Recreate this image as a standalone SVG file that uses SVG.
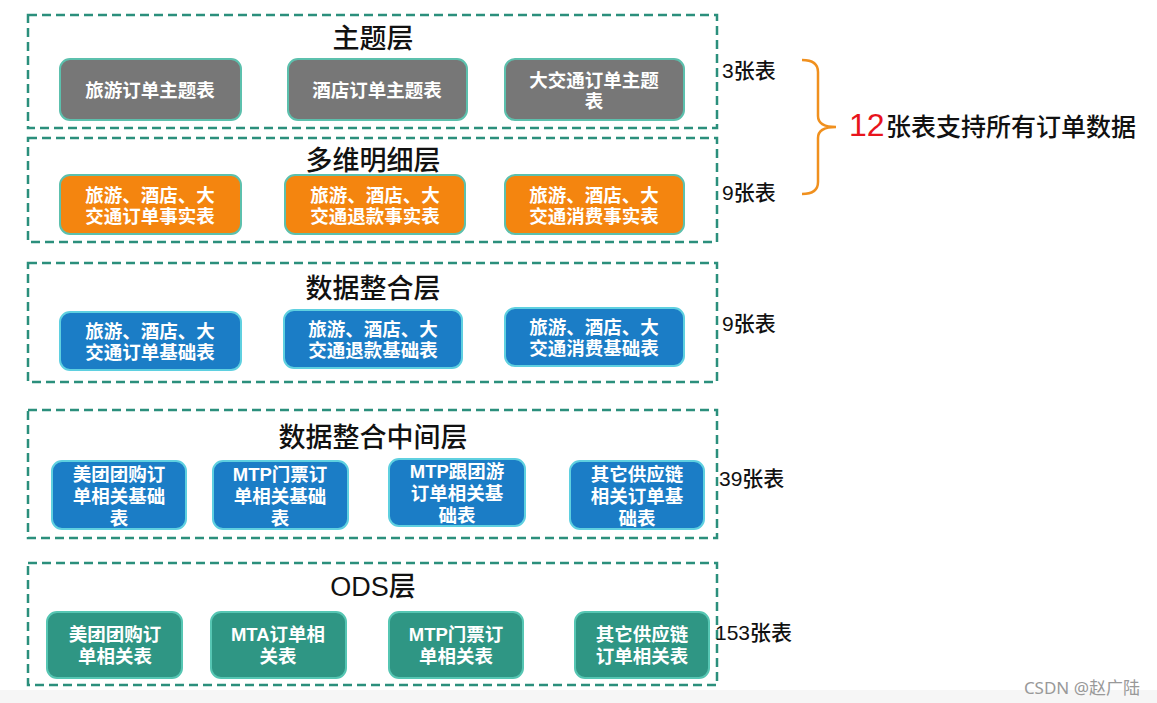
<svg xmlns="http://www.w3.org/2000/svg" width="1157" height="703" viewBox="0 0 1157 703">
<defs>
<style>
.layer{fill:none;stroke:#2b8f7c;stroke-width:2.5;stroke-dasharray:9 5}
.title{font-family:"Liberation Sans","Noto Sans CJK SC",sans-serif;font-size:27px;font-weight:500;fill:#111;text-anchor:middle}
.nt{font-family:"Liberation Sans","Noto Sans CJK SC",sans-serif;font-size:18.5px;font-weight:bold;fill:#fff;text-anchor:middle}
.gray{fill:#777;stroke:#5cc0ad;stroke-width:2}
.orange{fill:#f4850f;stroke:#5cc0ad;stroke-width:2}
.blue{fill:#1b7dc6;stroke:#5fd0e0;stroke-width:2}
.teal{fill:#2f9684;stroke:#56c6b3;stroke-width:2}
.cnt{font-family:"Liberation Sans","Noto Sans CJK SC",sans-serif;font-size:21px;font-weight:500;fill:#111}
</style>
</defs>
<rect x="0" y="0" width="1157" height="703" fill="#fff"/>
<rect x="0" y="690" width="1157" height="13" fill="#f6f6f6"/>

<g id="layer-theme">
<rect class="layer" x="28" y="15" width="689" height="113"/>
<text class="title" x="373" y="48">主题层</text>
<g id="n-theme-1"><rect class="gray" x="60" y="59" width="181" height="61" rx="10"/><text class="nt" x="150" y="97">旅游订单主题表</text></g>
<g id="n-theme-2"><rect class="gray" x="288" y="59" width="179" height="61" rx="10"/><text class="nt" x="377" y="97">酒店订单主题表</text></g>
<g id="n-theme-3"><rect class="gray" x="505" y="59" width="179" height="61" rx="10"/><text class="nt" x="594" y="87">大交通订单主题</text><text class="nt" x="594" y="108">表</text></g>
</g>

<g id="layer-detail">
<rect class="layer" x="28" y="138" width="689" height="104"/>
<text class="title" x="373" y="170">多维明细层</text>
<g id="n-detail-1"><rect class="orange" x="60" y="175" width="181" height="59" rx="10"/><text class="nt" x="150" y="202">旅游、酒店、大</text><text class="nt" x="150" y="223">交通订单事实表</text></g>
<g id="n-detail-2"><rect class="orange" x="285" y="175" width="180" height="59" rx="10"/><text class="nt" x="375" y="202">旅游、酒店、大</text><text class="nt" x="375" y="223">交通退款事实表</text></g>
<g id="n-detail-3"><rect class="orange" x="505" y="175" width="179" height="59" rx="10"/><text class="nt" x="594" y="202">旅游、酒店、大</text><text class="nt" x="594" y="223">交通消费事实表</text></g>
</g>

<g id="layer-integration">
<rect class="layer" x="28" y="263" width="689" height="119"/>
<text class="title" x="373" y="298">数据整合层</text>
<g id="n-int-1"><rect class="blue" x="60" y="312" width="181" height="58" rx="10"/><text class="nt" x="150" y="338">旅游、酒店、大</text><text class="nt" x="150" y="359">交通订单基础表</text></g>
<g id="n-int-2"><rect class="blue" x="284" y="310" width="178" height="58" rx="10"/><text class="nt" x="373" y="336">旅游、酒店、大</text><text class="nt" x="373" y="357">交通退款基础表</text></g>
<g id="n-int-3"><rect class="blue" x="505" y="308" width="179" height="58" rx="10"/><text class="nt" x="594" y="334">旅游、酒店、大</text><text class="nt" x="594" y="355">交通消费基础表</text></g>
</g>

<g id="layer-mid">
<rect class="layer" x="28" y="410" width="689" height="128"/>
<text class="title" x="373" y="447">数据整合中间层</text>
<g id="n-mid-1"><rect class="blue" x="52" y="461" width="134" height="68" rx="10"/><text class="nt" x="119" y="481">美团团购订</text><text class="nt" x="119" y="503">单相关基础</text><text class="nt" x="119" y="525">表</text></g>
<g id="n-mid-2"><rect class="blue" x="213" y="461" width="135" height="68" rx="10"/><text class="nt" x="280" y="481">MTP门票订</text><text class="nt" x="280" y="503">单相关基础</text><text class="nt" x="280" y="525">表</text></g>
<g id="n-mid-3"><rect class="blue" x="389" y="459" width="136" height="67" rx="10"/><text class="nt" x="457" y="478">MTP跟团游</text><text class="nt" x="457" y="500">订单相关基</text><text class="nt" x="457" y="522">础表</text></g>
<g id="n-mid-4"><rect class="blue" x="570" y="461" width="134" height="68" rx="10"/><text class="nt" x="637" y="481">其它供应链</text><text class="nt" x="637" y="503">相关订单基</text><text class="nt" x="637" y="525">础表</text></g>
</g>

<g id="layer-ods">
<rect class="layer" x="28" y="563" width="689" height="122"/>
<text class="title" x="373" y="596">ODS层</text>
<g id="n-ods-1"><rect class="teal" x="47" y="612" width="135" height="66" rx="10"/><text class="nt" x="115" y="641">美团团购订</text><text class="nt" x="115" y="663">单相关表</text></g>
<g id="n-ods-2"><rect class="teal" x="211" y="612" width="135" height="66" rx="10"/><text class="nt" x="278" y="641">MTA订单相</text><text class="nt" x="278" y="663">关表</text></g>
<g id="n-ods-3"><rect class="teal" x="389" y="612" width="134" height="66" rx="10"/><text class="nt" x="456" y="641">MTP门票订</text><text class="nt" x="456" y="663">单相关表</text></g>
<g id="n-ods-4"><rect class="teal" x="575" y="612" width="134" height="66" rx="10"/><text class="nt" x="642" y="641">其它供应链</text><text class="nt" x="642" y="663">订单相关表</text></g>
</g>

<g id="counts">
<text class="cnt" x="722" y="78">3张表</text>
<text class="cnt" x="722" y="200">9张表</text>
<text class="cnt" x="722" y="331">9张表</text>
<text class="cnt" x="719" y="486">39张表</text>
<text class="cnt" x="715" y="640">153张表</text>
</g>

<g id="connectors">
<path d="M802 60 Q818 60 818 72 L818 116 Q818 127 836 127 Q818 127 818 138 L818 182 Q818 194 802 194" fill="none" stroke="#f0901e" stroke-width="2.5"/>
</g>

<g id="summary">
<text x="849" y="136" font-family="Liberation Sans,Noto Sans CJK SC,sans-serif" font-size="32" fill="#e8141c">12</text>
<text x="886" y="136" font-family="Liberation Sans,Noto Sans CJK SC,sans-serif" font-size="25" font-weight="500" fill="#111">张表支持所有订单数据</text>
</g>

<text x="1140" y="694" text-anchor="end" font-family="Noto Sans,Noto Sans CJK SC,sans-serif" font-size="17" fill="#999">CSDN @赵广陆</text>
</svg>
